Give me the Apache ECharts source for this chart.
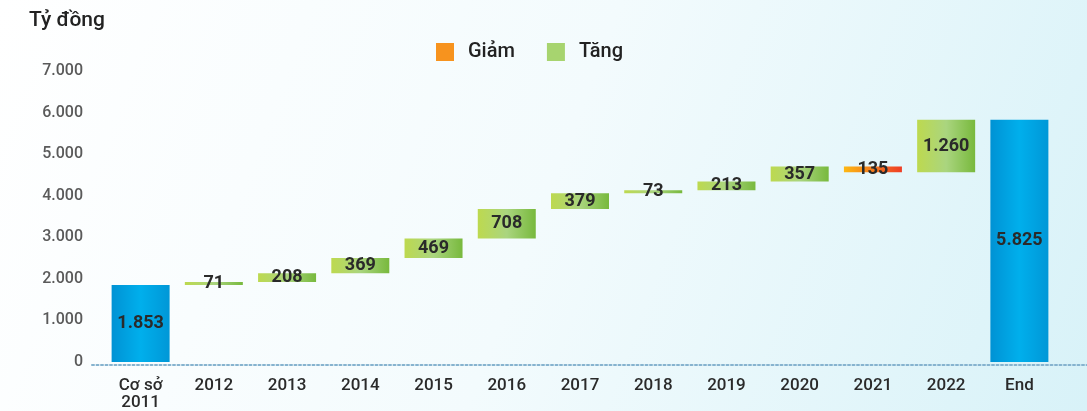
<!DOCTYPE html>
<html>
<head>
<meta charset="utf-8">
<script src="https://cdn.jsdelivr.net/npm/echarts@6/dist/echarts.min.js"></script>
<style>
  html, body { margin: 0; padding: 0; }
  #chart { width: 1087px; height: 411px; }
</style>
</head>
<body>
<div id="chart"></div>
<script>
// du lieu doc tu hinh
var categories = ['Cơ sở\n2011', '2012', '2013', '2014', '2015', '2016', '2017', '2018', '2019', '2020', '2021', '2022', 'End'];
var startValue = 1853;
var changes = [71, 208, 369, 469, 708, 379, 73, 213, 357, -135, 1260];
var endValue = 5825;
var yTicks = [0, 1000, 2000, 3000, 4000, 5000, 6000, 7000];

function fmt(v) {
    return String(Math.abs(v)).replace(/\B(?=(\d{3})+(?!\d))/g, '.');
}

// dung mang cho waterfall
var base = [0];
var up = ['-'];
var down = ['-'];
var total = [startValue];
var run = startValue;
for (var i = 0; i < changes.length; i++) {
    var c = changes[i];
    if (c >= 0) {
        base.push(run);
        up.push(c);
        down.push('-');
    } else {
        base.push(run + c);
        up.push('-');
        down.push(-c);
    }
    total.push('-');
    run += c;
}
base.push(0);
up.push('-');
down.push('-');
total.push(endValue);

var green = new echarts.graphic.LinearGradient(0, 0, 1, 0, [
    { offset: 0, color: '#bdd94f' },
    { offset: 0.5, color: '#aad57f' },
    { offset: 1, color: '#78b93d' }
]);
var orange = new echarts.graphic.LinearGradient(0, 0, 1, 0, [
    { offset: 0, color: '#fdb813' },
    { offset: 1, color: '#ee3d25' }
]);
var blue = new echarts.graphic.LinearGradient(0, 0, 1, 0, [
    { offset: 0, color: '#0092d4' },
    { offset: 0.5, color: '#00afec' },
    { offset: 1, color: '#0097d7' }
]);

var labelStyle = {
    show: true,
    position: 'inside',
    fontFamily: 'Roboto',
    fontSize: 18,
    fontWeight: 'bold',
    color: '#2a2a2a',
    formatter: function (p) { return fmt(p.value); }
};

var chartDom = document.getElementById('chart');
var myChart = echarts.init(chartDom);

var option = {
    animation: false,
    backgroundColor: new echarts.graphic.LinearGradient(0, 0, 1, 1, [
        { offset: 0, color: '#ffffff' },
        { offset: 0.5, color: '#f3fbfd' },
        { offset: 1, color: '#d8f2f8' }
    ]),
    textStyle: { fontFamily: 'Roboto' },
    title: {
        text: 'Tỷ đồng',
        left: 24,
        top: 5,
        textStyle: { fontFamily: 'Roboto', fontSize: 21, fontWeight: 500, color: '#222' }
    },
    legend: {
        left: 431,
        top: 37,
        itemWidth: 18,
        itemHeight: 18,
        itemGap: 32,
        icon: 'rect',
        textStyle: { fontFamily: 'Roboto', fontSize: 20, fontWeight: 500, color: '#222', padding: [0, 0, 0, 9] },
        data: [
            { name: 'Giảm', itemStyle: { color: '#f7931e' } },
            { name: 'Tăng', itemStyle: { color: '#a7d46f' } }
        ]
    },
    grid: [
        { left: 104, right: 31, top: 71, bottom: 46 },
        { left: 92, right: 0, top: 71, bottom: 46 }
    ],
    xAxis: [
        {
            type: 'category',
            data: categories,
            gridIndex: 0,
            axisLine: { show: false },
            axisTick: { show: false },
            axisLabel: {
                margin: 15,
                lineHeight: 17,
                fontFamily: 'Roboto',
                fontSize: 17,
                fontWeight: 500,
                color: '#2a2a2a'
            }
        },
        {
            type: 'category',
            data: [''],
            gridIndex: 1,
            axisLine: { show: true, lineStyle: { color: '#86b3cf', width: 2, type: [2, 2.5] } },
            axisTick: { show: false },
            axisLabel: { show: false }
        }
    ],
    yAxis: [
        {
            type: 'value',
            gridIndex: 0,
            min: yTicks[0],
            max: yTicks[yTicks.length - 1],
            interval: 1000,
            splitLine: { show: false },
            axisLabel: {
                margin: 21,
                padding: [0, 0, 10, 0],
                fontFamily: 'Roboto',
                fontSize: 16,
                fontWeight: 500,
                color: '#5a5a5a',
                formatter: function (v) { return fmt(v); }
            }
        },
        { type: 'value', gridIndex: 1, show: false, min: 0, max: 1 }
    ],
    series: [
        {
            name: 'base',
            type: 'bar',
            stack: 'w',
            barWidth: 58,
            silent: true,
            itemStyle: { color: 'transparent' },
            data: base
        },
        {
            name: 'Tăng',
            type: 'bar',
            stack: 'w',
            barWidth: 58,
            itemStyle: { color: green },
            label: labelStyle,
            data: up
        },
        {
            name: 'Giảm',
            type: 'bar',
            stack: 'w',
            barWidth: 58,
            itemStyle: { color: orange },
            label: labelStyle,
            data: down
        },
        {
            name: 'Tổng',
            type: 'bar',
            stack: 'w',
            barWidth: 58,
            itemStyle: { color: blue },
            label: labelStyle,
            data: total
        }
    ]
};

option && myChart.setOption(option);
</script>
</body>
</html>
